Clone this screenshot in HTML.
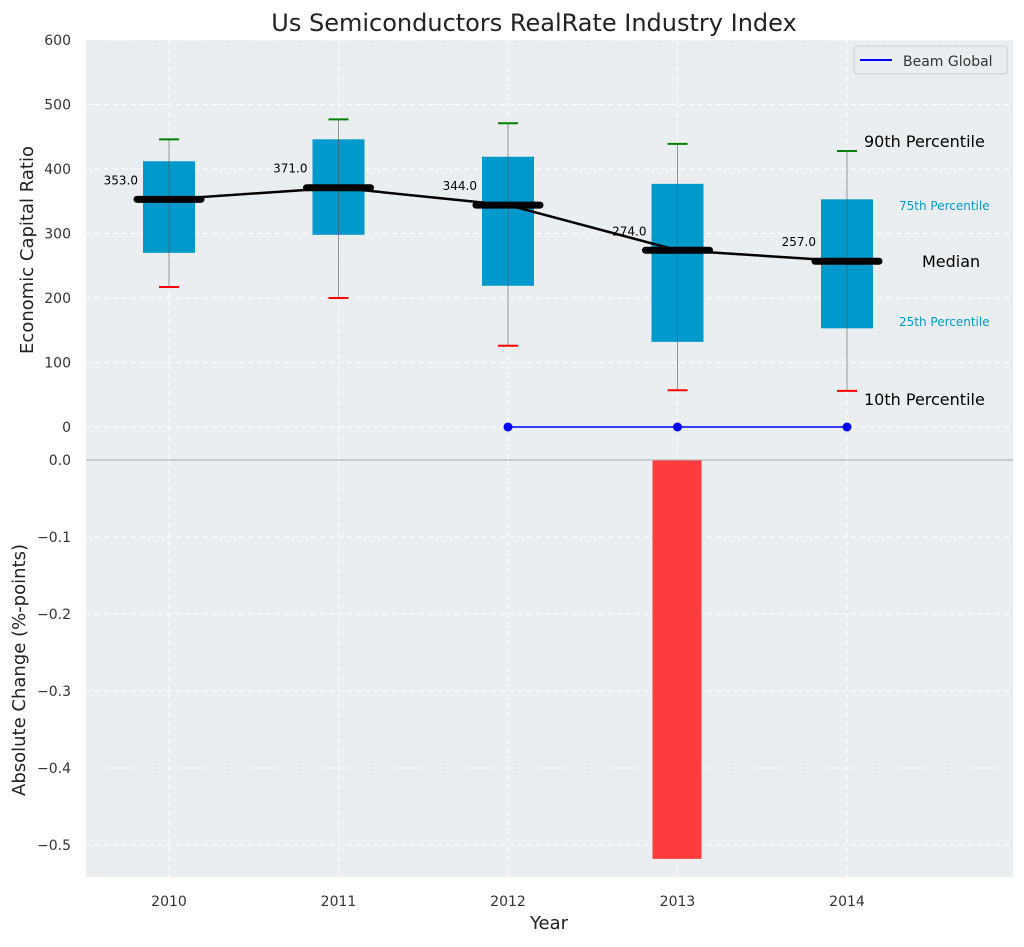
<!DOCTYPE html>
<html><head><meta charset="utf-8"><style>
body{margin:0;background:#fff;font-family:"Liberation Sans","DejaVu Sans",sans-serif}
</style></head><body>
<svg id="c" width="1024" height="942" xmlns="http://www.w3.org/2000/svg" font-family="DejaVu Sans, Liberation Sans, sans-serif">
<rect x="86" y="40" width="927" height="420" fill="#eaeef0"/>
<rect x="86" y="460" width="927" height="417" fill="#eaeef0"/>
<g id="grid"></g><g id="marks"></g><g id="labels"></g>
<text x="534" y="31" font-size="24" text-anchor="middle" fill="#222">Us Semiconductors RealRate Industry Index</text>
<text x="549" y="929" font-size="18" text-anchor="middle" fill="#222">Year</text>
<text transform="translate(33,250) rotate(-90)" font-size="18" text-anchor="middle" fill="#222">Economic Capital Ratio</text>
<text transform="translate(25,670) rotate(-90)" font-size="18" text-anchor="middle" fill="#222">Absolute Change (%-points)</text>
<line x1="86" y1="460" x2="1013" y2="460" stroke="#aaa" stroke-width="1"/>
<g>
<rect x="854" y="46" width="153" height="28" rx="3" fill="#eaeef0" stroke="#ccc"/>
<line x1="860" y1="60" x2="892" y2="60" stroke="#0000ff" stroke-width="2"/>
<text x="903" y="66" font-size="14" fill="#333">Beam Global</text>
</g>
<text x="864" y="147" font-size="16" fill="#000">90th Percentile</text>
<text x="899" y="210" font-size="12" fill="#0099cc">75th Percentile</text>
<text x="922" y="267" font-size="16" fill="#000">Median</text>
<text x="899" y="326" font-size="12" fill="#0099cc">25th Percentile</text>
<text x="864" y="405" font-size="16" fill="#000">10th Percentile</text>
</svg>
<script>
const years=[2010,2011,2012,2013,2014];
const p10=[217,200,126,57,56];
const p25=[270,298,219,132,153];
const medians=[353,371,344,274,257];
const p75=[412,446,419,377,353];
const p90=[446,477,471,439,428];
const beamYears=[2012,2013,2014];
const beamValues=[0,0,0];
const changeYears=[2013];
const changeValues=[-0.518];
const topTicks=[0,100,200,300,400,500,600];
const bottomTicks=[0,-0.1,-0.2,-0.3,-0.4,-0.5];
const NS='http://www.w3.org/2000/svg';
const X=y=>169+(y-2010)*169.5;
const Y=v=>427-v*0.645;
const Y2=v=>460-v*770;
function mk(parent,tag,attrs){const e=document.createElementNS(NS,tag);for(const k in attrs)e.setAttribute(k,attrs[k]);document.getElementById(parent).appendChild(e);return e;}
topTicks.forEach(t=>{
 let g=mk('grid','line',{x1:86,x2:1013,y1:Y(t),y2:Y(t),stroke:'#fff','stroke-dasharray':'5,4','stroke-width':1});
 
 
 let l=mk('labels','text',{x:71,y:Y(t)+5,'font-size':14,'text-anchor':'end',fill:'#333'});l.textContent=t;
 
 
});
bottomTicks.forEach(t=>{
 let g=mk('grid','line',{x1:86,x2:1013,y1:Y2(t),y2:Y2(t),stroke:'#fff','stroke-dasharray':'5,4','stroke-width':1});
 
 
 let l=mk('labels','text',{x:71,y:Y2(t)+5,'font-size':14,'text-anchor':'end',fill:'#333'});l.textContent=(t<0?'\u22120':'0')+Math.abs(t).toFixed(1).slice(1);
 
 
});
years.forEach(y=>{
 [[40,460],[460,877]].forEach(r=>{let g=mk('grid','line',{x1:X(y),x2:X(y),y1:r[0],y2:r[1],stroke:'#fff','stroke-dasharray':'5,4'});
 
 });
 let l=mk('labels','text',{x:X(y),y:906,'font-size':14,'text-anchor':'middle',fill:'#333'});l.textContent=y;
 
 
});
changeValues.forEach((v,i)=>{
 let y0=Math.min(Y2(0),Y2(v)),h=Math.abs(Y2(v)-Y2(0));
 let b=mk('marks','rect',{x:X(changeYears[i])-25,y:y0,width:49,height:h,fill:'#ff2222','fill-opacity':0.87});
 
 
});
years.forEach((y,i)=>{
 let x=X(y);
 let b=mk('marks','rect',{x:x-26,y:Y(p75[i]),width:52,height:Y(p25[i])-Y(p75[i]),fill:'#0099cc'});
 
 
 let w=mk('marks','line',{x1:x,x2:x,y1:Y(p90[i]),y2:Y(p10[i]),stroke:'#555','stroke-opacity':0.6,'stroke-width':1});
 
 
 let c1=mk('marks','line',{x1:x-10,x2:x+10,y1:Y(p90[i]),y2:Y(p90[i]),stroke:'green','stroke-width':2});
 
 
 let c2=mk('marks','line',{x1:x-10,x2:x+10,y1:Y(p10[i]),y2:Y(p10[i]),stroke:'red','stroke-width':2});
 
 
});
let pts=years.map((y,i)=>X(y)+','+Y(medians[i])).join(' ');
let ml=mk('marks','polyline',{points:pts,fill:'none',stroke:'#000','stroke-width':2.5});


years.forEach((y,i)=>{
 let x=X(y);
 let m=mk('marks','line',{x1:x-32,x2:x+32,y1:Y(medians[i]),y2:Y(medians[i]),stroke:'#000','stroke-width':7,'stroke-linecap':'round'});
 
 
 let t=mk('labels','text',{x:x-31,y:Y(medians[i])-15,'font-size':12,'text-anchor':'end',fill:'#000'});t.textContent=medians[i].toFixed(1);
 
 
});
let bp=beamYears.map((y,i)=>X(y)+','+Y(beamValues[i])).join(' ');
let bl=mk('marks','polyline',{points:bp,fill:'none',stroke:'#0000ff','stroke-width':1.5});


beamYears.forEach((y,i)=>{let d=mk('marks','circle',{cx:X(y),cy:Y(beamValues[i]),r:4.5,fill:'#0000ff'});
 
 });
</script>
</body></html>
